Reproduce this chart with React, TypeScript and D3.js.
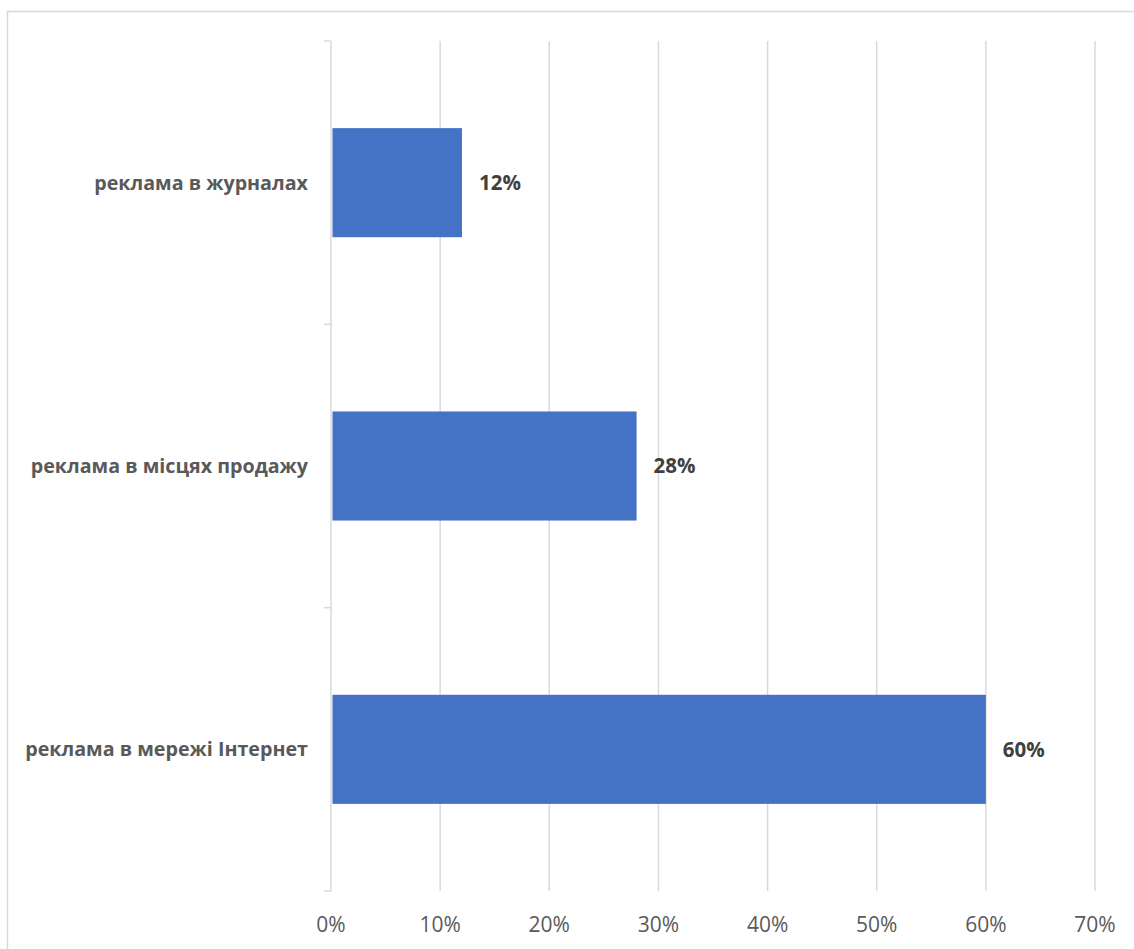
import React from "react";
import * as d3 from "d3";

const categories = ["реклама в журналах", "реклама в місцях продажу", "реклама в мережі Інтернет"];
const values = [0.12, 0.28, 0.6];
const xTicks = [0, 0.1, 0.2, 0.3, 0.4, 0.5, 0.6, 0.7];

const W = 1134;
const H = 949;
const FONT = "'Open Sans', 'Noto Sans', sans-serif";

export default function App() {
  const x = d3.scaleLinear().domain([0, 0.7]).range([331, 1095]);
  const y = d3
    .scaleBand<string>()
    .domain(categories)
    .range([41, 891])
    .paddingInner(0.615)
    .paddingOuter(0.3075);
  const step = y.step();
  const top = 41;
  const bottom = 891;
  const fmt = d3.format(".0%");
  return (
    <svg
      width={W}
      height={H}
      style={{ position: "absolute", left: 0, top: 0, display: "block", background: "#fff" }}
    >
      <rect x={7.5} y={11.5} width={W + 10} height={H + 10} fill="#fff" stroke="#d9d9d9" strokeWidth={1.5} />
      {xTicks.map((t) => (
        <line key={"g" + t} x1={x(t)} x2={x(t)} y1={top} y2={bottom} stroke="#d9d9d9" strokeWidth={1.5} />
      ))}
      {d3.range(categories.length + 1).map((i) => (
        <line
          key={"t" + i}
          x1={x(0) - 7}
          x2={x(0)}
          y1={top + i * step}
          y2={top + i * step}
          stroke="#d9d9d9"
          strokeWidth={1.5}
        />
      ))}
      {categories.map((c, i) => (
        <rect
          key={"b" + c}
          x={x(0) + 1.5}
          y={y(c)!}
          width={x(values[i]) - x(0) - 1.5}
          height={y.bandwidth()}
          fill="#4472c4"
        />
      ))}
      {categories.map((c, i) => (
        <text
          key={"v" + c}
          x={x(values[i]) + 17}
          y={y(c)! + y.bandwidth() / 2}
          dy="0.35em"
          fontFamily={FONT}
          fontWeight="bold"
          fontSize={20.5}
          fill="#404040"
        >
          {fmt(values[i])}
        </text>
      ))}
      {categories.map((c) => (
        <text
          key={"c" + c}
          x={308}
          y={y(c)! + y.bandwidth() / 2}
          dy="0.35em"
          textAnchor="end"
          fontFamily={FONT}
          fontWeight="bold"
          fontSize={19.7}
          fill="#595959"
        >
          {c}
        </text>
      ))}
      {xTicks.map((t) => (
        <text
          key={"l" + t}
          x={x(t)}
          y={925}
          dy="0.35em"
          textAnchor="middle"
          fontFamily={FONT}
          fontSize={21}
          fill="#595959"
        >
          {fmt(t)}
        </text>
      ))}
    </svg>
  );
}
